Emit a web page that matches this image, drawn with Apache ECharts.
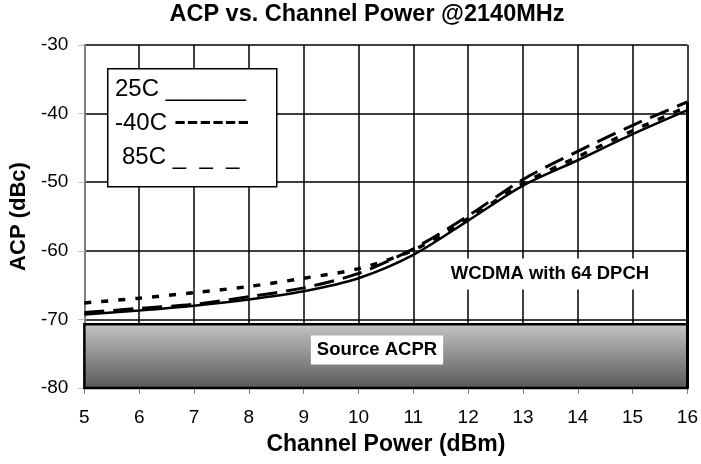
<!DOCTYPE html>
<html>
<head>
<meta charset="utf-8">
<script src="https://cdn.jsdelivr.net/npm/echarts@6/dist/echarts.min.js"></script>
<style>
html,body{margin:0;padding:0;background:#fff;}
#chart{width:701px;height:464px;}
</style>
</head>
<body>
<div id="chart"></div>
<script>
// ---- data ----
const powerDbm = [5, 6, 7, 8, 9, 10, 11, 12, 13, 14, 15, 16];
const acp25C  = [-69.3, -68.7, -68.0, -67.1, -65.9, -64.0, -60.6, -55.6, -50.5, -46.8, -43.0, -39.5];
const acpM40C = [-67.6, -66.9, -66.1, -65.2, -64.0, -62.6, -59.9, -55.3, -50.2, -46.3, -42.5, -39.0];
const acp85C  = [-69.0, -68.4, -67.8, -66.7, -65.4, -63.3, -59.7, -54.9, -49.6, -45.5, -41.7, -38.3];
const sourceAcprTop = -70.7;
const sourceAcprBottom = -80;
const yMin = -80, yMax = -30, yStep = 10;
const xMin = 5, xMax = 16, xStep = 1;
const legendLabels = ['25C', '-40C', '85C'];
const legendSamples = ['______', '------', '_  _  _'];
const titleText = 'ACP vs. Channel Power @2140MHz';
const xName = 'Channel Power (dBm)';
const yName = 'ACP (dBc)';
const noteWcdma = 'WCDMA with 64 DPCH';
const noteSource = 'Source ACPR';

const FONT = '"Liberation Sans", Arial, sans-serif';
const pairs = (ys) => powerDbm.map((x, i) => [x, ys[i]]);

const chart = echarts.init(document.getElementById('chart'), null, {renderer: 'canvas'});
const option = {
  animation: false,
  backgroundColor: '#fff',
  title: {
    text: titleText,
    left: 367, top: 3, textAlign: 'center', padding: 0,
    textStyle: {fontFamily: FONT, fontSize: 23.5, fontWeight: 'bold', color: '#000'}
  },
  grid: {left: 84, right: 10, top: 45, bottom: 76, containLabel: false},
  xAxis: {
    type: 'value', min: xMin, max: xMax, interval: xStep,
    name: xName, nameLocation: 'middle', nameGap: 45,
    nameTextStyle: {fontFamily: FONT, fontSize: 23, fontWeight: 'bold', color: '#000'},
    axisLine: {show: true, onZero: false, lineStyle: {color: '#000', width: 2}},
    axisTick: {show: true, length: 6, lineStyle: {color: '#808080', width: 1}},
    axisLabel: {margin: 20, fontFamily: FONT, fontSize: 19, color: '#000'},
    splitLine: {show: true, lineStyle: {color: '#000', width: 1.5}}
  },
  yAxis: {
    type: 'value', min: yMin, max: yMax, interval: yStep,
    name: yName, nameLocation: 'middle', nameGap: 50,
    nameTextStyle: {fontFamily: FONT, fontSize: 22, fontWeight: 'bold', color: '#000'},
    axisLine: {show: true, onZero: false, lineStyle: {color: '#808080', width: 2}},
    axisTick: {show: true, length: 6, lineStyle: {color: '#c0c0c0', width: 1}},
    axisLabel: {margin: 16, fontFamily: FONT, fontSize: 19, color: '#000'},
    splitLine: {show: true, lineStyle: {color: '#000', width: 1.5}}
  },
  series: [
    {
      name: '25C', type: 'line', data: pairs(acp25C), smooth: 0.3,
      showSymbol: false, lineStyle: {color: '#000', width: 2.5, type: 'solid'}, z: 5,
      markArea: {
        silent: true,
        itemStyle: {
          color: new echarts.graphic.LinearGradient(0, 0, 0, 1, [
            {offset: 0, color: '#c6c6c6'}, {offset: 1, color: '#575757'}
          ]),
          borderColor: '#000', borderWidth: 2.5
        },
        data: [[{yAxis: sourceAcprTop}, {yAxis: sourceAcprBottom}]]
      },
      markLine: {
        silent: true, symbol: 'none', label: {show: false},
        lineStyle: {color: '#000', width: 3, type: 'solid'},
        data: [[{coord: [xMax, acp85C[acp85C.length - 1]]}, {coord: [xMax, yMin]}]]
      }
    },
    {
      name: '-40C', type: 'line', data: pairs(acpM40C), smooth: 0.3,
      showSymbol: false, lineStyle: {color: '#000', width: 3.5, type: [7, 10]}, z: 4
    },
    {
      name: '85C', type: 'line', data: pairs(acp85C), smooth: 0.3,
      showSymbol: false, lineStyle: {color: '#000', width: 3, type: [20, 9]}, z: 4
    }
  ],
  graphic: [
    {type: 'rect', left: 107, top: 68, shape: {width: 169, height: 118}, z: 50,
     style: {fill: '#fff', stroke: '#000', lineWidth: 1.5}},
    {type: 'text', x: 115, y: 89, z: 51,
     style: {text: legendLabels[0] + ' ' + legendSamples[0], fontFamily: FONT, fontSize: 24, fill: '#000', verticalAlign: 'middle'}},
    {type: 'text', x: 115, y: 123, z: 51,
     style: {text: '{a|' + legendLabels[1] + ' }{d|' + legendSamples[1] + '}', verticalAlign: 'middle',
       rich: {a: {fontFamily: FONT, fontSize: 24, fill: '#000'},
              d: {fontFamily: FONT, fontSize: 38, fill: '#000'}}}},
    {type: 'text', x: 122, y: 157, z: 51,
     style: {text: legendLabels[2] + ' ' + legendSamples[2], fontFamily: FONT, fontSize: 24, fill: '#000', verticalAlign: 'middle'}},
    {type: 'text', x: 550, y: 274, z: 51,
     style: {text: noteWcdma, fontFamily: FONT, fontSize: 18.5, fontWeight: 'bold', fill: '#000',
       align: 'center', verticalAlign: 'middle', backgroundColor: '#fff', padding: [6, 5]}},
    {type: 'text', x: 377, y: 350, z: 51,
     style: {text: noteSource, fontFamily: FONT, fontSize: 18.5, fontWeight: 'bold', fill: '#000',
       align: 'center', verticalAlign: 'middle', backgroundColor: '#fff', padding: [5, 6]}}
  ]
};
chart.setOption(option);
</script>
</body>
</html>
